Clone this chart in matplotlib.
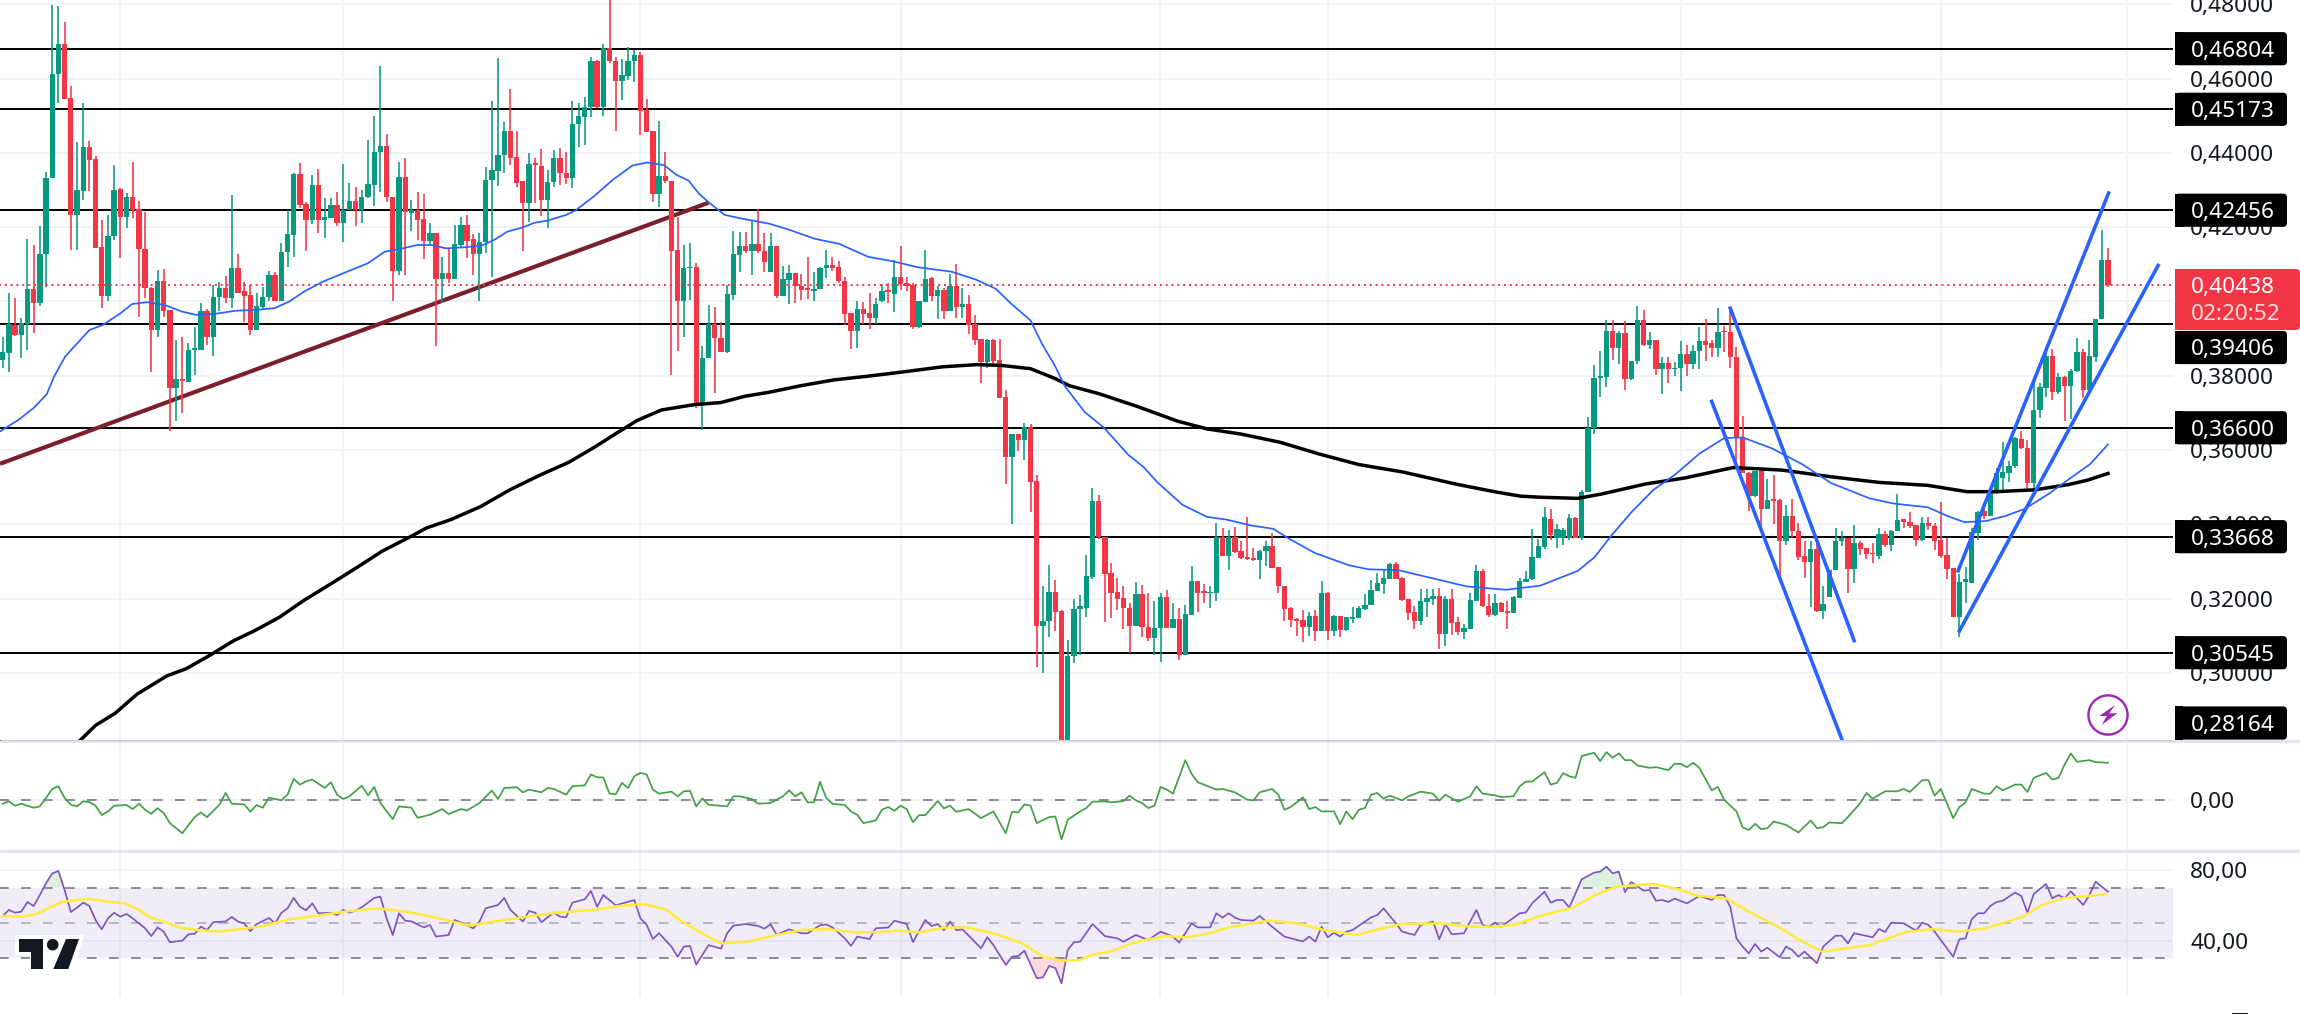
import numpy as np
import matplotlib
matplotlib.use("Agg")
import matplotlib.pyplot as plt
from matplotlib.patches import Rectangle, FancyBboxPatch, Polygon, Circle
from matplotlib.ticker import FuncFormatter

plt.rcParams['font.family'] = ['Noto Sans', 'DejaVu Sans']

# ---- candles: G = up, R = down
direction = ("GGRGGRGGGG" "RRGGRRRGGR" "GRRRRGRRGR" "GGGRGGRGRR" "RGGGRGGGRR" "GRGGRGGRGG" "GGRRGRGRRG"
             "RGRGGRRGGG" "GGRRRGRRGG" "RRGGGGRGRR" "GGGRRRGRRR" "GGRGGRRGGG" "RGRRGRGGRR" "RGGGRRRRGR"
             "RGGRGRRRGG" "RGRGRGRRRG" "RRRGRGRRGG" "RRGGGGGRRR" "RRRGRRGGRG" "RGGRRGGRGR" "RRRGGRRRRR"
             "RGRGRGRGGG" "GGGGGRRRRG" "GGRGRRGGGR" "RGRRGGGGGG" "RGGGRGGGGG" "RGRGGRGRGR" "GGRGGRRGRR"
             "RRRGRGRRGR" "RRGRGGGGRG" "RRRGRGGRRR" "GRRRRRGGGG" "RGGGGGRRGG" "GRGRGGRGGG" "R")
body_top = [
 .3863,.3940,.3937,.3943,.4033,.4033,.4127,.4332,.4612,.4693,
 .4693,.4547,.4300,.4417,.4417,.4384,.4146,.4176,.4300,.4303,
 .4281,.4282,.4248,.4140,.4036,.4055,.4055,.3977,.3792,.3792,
 .3870,.3874,.3973,.3975,.4011,.4035,.4035,.4089,.4089,.4028,
 .4018,.3988,.4013,.4070,.4070,.4134,.4181,.4343,.4343,.4263,
 .4314,.4314,.4227,.4260,.4260,.4246,.4271,.4271,.4280,.4315,
 .4402,.4419,.4419,.4282,.4334,.4334,.4245,.4245,.4222,.4184,
 .4184,.4076,.4076,.4154,.4206,.4206,.4167,.4161,.4326,.4354,
 .4394,.4459,.4459,.4388,.4323,.4369,.4372,.4366,.4321,.4385,
 .4385,.4347,.4478,.4498,.4523,.4648,.4648,.4681,.4681,.4647,
 .4609,.4647,.4663,.4663,.4516,.4459,.4338,.4338,.4324,.4139,
 .4089,.4094,.4094,.3847,.3940,.3940,.3903,.4020,.4127,.4150,
 .4150,.4154,.4154,.4137,
 .4148,.4148,.4060,.4077,.4077,.4041,
 .4037,.4034,.4090,.4097,.4097,.4092,.4056,.3969,.3981,.3981,
 .3969,.3994,.4027,.4030,.4065,.4065,.4049,.4043,.4002,.4060,
 .4062,.4032,.4030,.4041,.4041,.3993,.3993,.3939,.3898,.3896,
 .3896,.3842,.3742,.3643,.3643,.3663,.3663,.3517,.3140,.3219,
 .3219,.3168,.3045,.3172,.3179,.3261,.3462,.3462,.3365,.3269,
 .3218,.3202,.3176,.3212,.3212,.3125,.3122,.3204,.3204,.3145,
 .3145,.3159,.3248,.3248,.3220,.3218,.3365,.3366,.3366,.3366,
 .3327,.3313,.3309,.3329,.3341,.3341,.3285,.3233,.3174,.3144,
 .3142,.3153,.3153,.3214,.3216,.3153,.3153,.3150,.3150,.3175,
 .3184,.3222,.3242,.3255,.3292,.3292,.3255,.3198,.3163,.3193,
 .3201,.3207,.3207,.3200,.3200,.3137,.3121,.3196,.3275,.3275,
 .3181,.3187,.3189,.3168,.3205,.3247,.3253,.3312,.3341,
 .3419,
 .3414,.3388,.3386,.3417,.3417,.3488,.3660,.3794,.3799,.3921,
 .3921,.3914,.3914,.3840,.3949,.3949,.3896,.3896,.3834,.3834,
 .3822,.3859,.3859,.3866,.3893,.3893,.3887,.3919,.3921,.3917,
 .3850,.3636,.3539,.3544,.3544,.3465,.3467,.3465,.3423,.3423,
 .3381,.3314,.3333,.3333,.3185,.3278,.3355,.3363,.3363,.3349,
 .3349,.3337,.3323,.3375,.3375,.3383,.3412,.3414,.3406,.3397,
 .3403,.3403,.3395,.3358,.3317,.3282,.3245,.3252,.3379,.3434,
 .3435,.3488,.3539,.3542,.3558,.3632,.3630,.3606,.3709,.3771,
 .3854,.3854,.3796,.3797,.3814,.3863,.3865,.3852,.3954,.4112,
 .4112]
body_bottom = [
 .3843,.3862,.3910,.3910,.3940,.3997,.3997,.4127,.4332,.4612,
 .4546,.4233,.4233,.4298,.4381,.4143,.4015,.4015,.4175,.4228,
 .4228,.4246,.4140,.4036,.3923,.3923,.3975,.3768,.3768,.3786,
 .3784,.3870,.3870,.3904,.3904,.4011,.4009,.4009,.4024,.4015,
 .3923,.3923,.3986,.4013,.4001,.4001,.4132,.4179,.4260,.4219,
 .4219,.4219,.4219,.4224,.4212,.4212,.4245,.4245,.4245,.4280,
 .4314,.4401,.4282,.4083,.4083,.4242,.4237,.4219,.4164,.4164,
 .4060,.4060,.4060,.4060,.4152,.4164,.4128,.4128,.4161,.4326,
 .4352,.4394,.4387,.4320,.4266,.4266,.4367,.4273,.4273,.4321,
 .4345,.4333,.4333,.4477,.4496,.4523,.4524,.4524,.4646,.4594,
 .4594,.4607,.4646,.4514,.4457,.4289,.4289,.4323,.4137,.4002,
 .4002,.4089,.3726,.3722,.3847,.3901,.3865,.3865,.4018,.4125,
 .4137,.4137,.4137,.4105,
 .4078,.4015,.4015,.4058,.4041,.4032,
 .4032,.4027,.4034,.4090,.4091,.4054,.3967,.3921,.3921,.3967,
 .3955,.3955,.4002,.4025,.4021,.4046,.4041,.3932,.3932,.3999,
 .4014,.4014,.3975,.3975,.3984,.3984,.3938,.3895,.3836,.3836,
 .3840,.3740,.3580,.3580,.3627,.3627,.3515,.3126,.3126,.3140,
 .3165,.2750,.2750,.3045,.3172,.3175,.3258,.3365,.3267,.3216,
 .3200,.3175,.3126,.3126,.3124,.3094,.3094,.3122,.3122,.3122,
 .3048,.3048,.3156,.3216,.3216,.3214,.3214,.3315,.3315,.3326,
 .3309,.3306,.3305,.3304,.3327,.3283,.3233,.3172,.3142,.3140,
 .3124,.3124,.3114,.3114,.3114,.3114,.3116,.3116,.3146,.3147,
 .3173,.3184,.3220,.3240,.3253,.3253,.3196,.3161,.3140,.3140,
 .3191,.3200,.3105,.3105,.3135,.3111,.3111,.3118,.3195,.3179,
 .3156,.3156,.3165,.3161,.3161,.3202,.3246,.3252,.3309,
 .3340,
 .3372,.3363,.3363,.3363,.3363,.3363,.3488,.3660,.3794,.3797,
 .3875,.3875,.3791,.3791,.3840,.3882,.3884,.3817,.3819,.3819,
 .3819,.3821,.3831,.3831,.3866,.3884,.3875,.3876,.3917,.3850,
 .3636,.3539,.3476,.3476,.3442,.3442,.3463,.3354,.3354,.3381,
 .3312,.3300,.3300,.3166,.3166,.3205,.3277,.3354,.3279,.3279,
 .3335,.3321,.3319,.3315,.3344,.3344,.3381,.3406,.3395,.3358,
 .3358,.3395,.3356,.3315,.3279,.3150,.3150,.3244,.3242,.3377,
 .3423,.3423,.3488,.3525,.3539,.3556,.3606,.3511,.3511,.3708,
 .3768,.3755,.3755,.3773,.3773,.3812,.3763,.3763,.3850,.3954,
 .40438]
wick_high = [
 .3905,.4022,.4009,.3955,.4167,.4152,.4202,.4348,.4798,.4795,
 .4752,.4580,.4430,.4533,.4433,.4392,.4219,.4233,.4367,.4305,
 .4293,.4375,.4270,.4242,.4040,.4085,.4087,.3977,.3897,.3904,
 .3888,.3932,.3995,.3979,.4045,.4053,.4069,.4287,.4128,.4053,
 .4045,.4022,.4040,.4083,.4080,.4157,.4246,.4345,.4372,.4269,
 .4341,.4357,.4278,.4278,.4296,.4370,.4320,.4309,.4300,.4435,
 .4498,.4634,.4450,.4282,.4375,.4385,.4273,.4294,.4289,.4211,
 .4184,.4121,.4143,.4206,.4227,.4233,.4182,.4184,.4363,.4540,
 .4655,.4484,.4571,.4459,.4323,.4399,.4385,.4411,.4354,.4408,
 .4412,.4403,.4540,.4533,.4551,.4659,.4650,.4693,.4811,.4659,
 .4654,.4684,.4677,.4672,.4545,.4459,.4486,.4403,.4324,.4228,
 .4152,.4157,.4103,.3881,.3991,.3986,.3946,.4045,.4190,.4188,
 .4186,.4218,.4248,.4184,
 .4185,.4148,.4095,.4097,.4077,.4074,
 .4120,.4078,.4092,.4139,.4120,.4108,.4065,.3969,.4001,.3999,
 .4023,.4009,.4046,.4051,.4111,.4148,.4065,.4051,.4002,.4139,
 .4065,.4041,.4037,.4074,.4102,.4037,.4018,.3963,.3898,.3898,
 .3900,.3900,.3763,.3643,.3643,.3672,.3671,.3532,.3235,.3290,
 .3249,.3170,.3090,.3198,.3209,.3318,.3498,.3479,.3365,.3295,
 .3255,.3233,.3189,.3246,.3237,.3216,.3193,.3216,.3224,.3189,
 .3175,.3184,.3288,.3248,.3239,.3235,.3404,.3391,.3385,.3392,
 .3355,.3420,.3337,.3332,.3355,.3378,.3285,.3235,.3177,.3147,
 .3170,.3165,.3170,.3248,.3218,.3156,.3153,.3151,.3177,.3181,
 .3212,.3249,.3270,.3276,.3295,.3298,.3258,.3198,.3179,.3227,
 .3226,.3227,.3230,.3207,.3226,.3151,.3133,.3214,.3290,.3281,
 .3212,.3212,.3190,.3193,.3207,.3256,.3274,.3388,.3360,
 .3448,
 .3442,.3400,.3391,.3428,.3419,.3493,.3689,.3828,.3868,.3949,
 .3949,.3921,.3947,.3840,.3987,.3977,.3919,.3896,.3850,.3850,
 .3836,.3893,.3884,.3884,.3930,.3953,.3896,.3982,.3933,.3973,
 .3877,.3692,.3541,.3544,.3553,.3522,.3532,.3467,.3451,.3467,
 .3405,.3354,.3354,.3354,.3233,.3279,.3391,.3381,.3363,.3398,
 .3354,.3337,.3349,.3391,.3381,.3386,.3482,.3414,.3432,.3397,
 .3419,.3419,.3405,.3460,.3363,.3282,.3266,.3284,.3391,.3437,
 .3460,.3488,.3553,.3622,.3570,.3634,.3652,.3627,.3780,.3780,
 .3873,.3873,.3808,.3800,.3817,.3901,.3873,.3896,.3954,.4193,
 .4143]
wick_low = [
 .3820,.3809,.3906,.3847,.3870,.3914,.3988,.4040,.4332,.4533,
 .4546,.4139,.4139,.4273,.4298,.4143,.3982,.4000,.4166,.4116,
 .4199,.4224,.3959,.4009,.3809,.3904,.3959,.3650,.3679,.3701,
 .3784,.3802,.3870,.3883,.3852,.3973,.3997,.3982,.4022,.3946,
 .3910,.3923,.3977,.4000,.4001,.4001,.4094,.4121,.4251,.4137,
 .4209,.4184,.4172,.4224,.4203,.4161,.4245,.4203,.4212,.4278,
 .4258,.4296,.4269,.4001,.4071,.4071,.4191,.4166,.4114,.4152,
 .3881,.3995,.4049,.4060,.4143,.4116,.4071,.4000,.4130,.4067,
 .4311,.4345,.4367,.4309,.4137,.4215,.4264,.4230,.4199,.4309,
 .4314,.4316,.4305,.4417,.4421,.4496,.4520,.4498,.4641,.4460,
 .4541,.4596,.4592,.4448,.4457,.4269,.4254,.4318,.3801,.3868,
 .3904,.4004,.3713,.3653,.3847,.3753,.3865,.3862,.4004,.4080,
 .4130,.4071,.4130,.4080,
 .4078,.4009,.4015,.3992,.3995,.4004,
 .4007,.4002,.4034,.4062,.4083,.4051,.3938,.3873,.3874,.3939,
 .3925,.3939,.3999,.3995,.3972,.4030,.4027,.3925,.3928,.3999,
 .4002,.3953,.3953,.3975,.3956,.3956,.3912,.3882,.3780,.3822,
 .3826,.3740,.3508,.3402,.3598,.3573,.3434,.3017,.3001,.3096,
 .3114,.2700,.2700,.3026,.3049,.3150,.3253,.3360,.3137,.3147,
 .3170,.3119,.3054,.3126,.3096,.3087,.3049,.3029,.3122,.3122,
 .3036,.3048,.3156,.3163,.3189,.3176,.3193,.3314,.3277,.3323,
 .3307,.3304,.3302,.3253,.3289,.3283,.3216,.3140,.3124,.3100,
 .3084,.3100,.3086,.3114,.3088,.3100,.3098,.3114,.3135,.3147,
 .3170,.3184,.3220,.3212,.3253,.3253,.3193,.3142,.3119,.3128,
 .3151,.3184,.3065,.3073,.3103,.3102,.3091,.3118,.3195,.3177,
 .3151,.3154,.3163,.3119,.3161,.3202,.3244,.3249,.3309,
 .3335,
 .3358,.3337,.3344,.3358,.3363,.3358,.3488,.3643,.3743,.3771,
 .3843,.3831,.3762,.3789,.3833,.3879,.3873,.3803,.3752,.3780,
 .3799,.3760,.3799,.3817,.3817,.3840,.3850,.3850,.3863,.3822,
 .3567,.3539,.3437,.3474,.3391,.3442,.3400,.3244,.3344,.3363,
 .3303,.3256,.3177,.3164,.3145,.3205,.3277,.3343,.3216,.3241,
 .3317,.3307,.3296,.3307,.3340,.3328,.3381,.3391,.3391,.3342,
 .3354,.3386,.3330,.3309,.3254,.3150,.3096,.3187,.3242,.3358,
 .3414,.3423,.3483,.3493,.3513,.3553,.3604,.3488,.3488,.3687,
 .3743,.3734,.3752,.3678,.3683,.3810,.3741,.3761,.3838,.3954,
 .4040]

# ---- moving averages (bar number, price)
ema50 = [(-.44,.3650),(2.7,.3683),(5.1,.3715),(7.1,.3750),(8.3,.3798),(10.1,.3852),(11.8,.3883),(14,.3923),(16.2,.3937),
 (19,.3968),(20.9,.3993),(23.3,.3998),(26.1,.3991),(28.9,.3973),(31.2,.3964),(34.4,.3967),(37.6,.3975),(40.7,.3977),
 (43.9,.3982),(46.3,.4000),(48.7,.4027),(51.8,.4054),(55,.4076),(59,.4103),(61.7,.4134),(64.1,.4141),(66.9,.4152),
 (69.2,.4152),(71.6,.4143),(74.8,.4146),(77.6,.4152),(79.5,.4167),(81.5,.4188),(83.9,.4199),(85.9,.4212),(87.8,.4217),
 (91,.4233),(92.6,.4246),(95.4,.4282),(98.5,.4327),(101.7,.4366),(104.1,.4374),(106.8,.4367),(108.8,.4341),(110.8,.4325),
 (112.4,.4291),(114,.4267),(116.6,.4233),(119.1,.4224),(123.9,.4209),
 (127.2,.4192),(131.1,.4169),(135.1,.4155),(139.8,.4120),(143.8,.4108),(147.8,.4092),(153.3,.4080),(157.3,.4058),
 (160.4,.4034),(162.8,.3995),(166,.3949),(167.9,.3884),(169.9,.3828),(171.5,.3773),(174.7,.3703),(177.8,.3661),
 (181.8,.3587),(184.2,.3555),(186.5,.3513),(190.5,.3453),(194.5,.3420),(197.6,.3413),(201.6,.3397),(205.2,.3388),
 (207.9,.3360),(211.9,.3323),(217.4,.3290),(220.6,.3279),(225.3,.3277),(230.9,.3255),(236.4,.3233),(242.8,.3224),(248.3,.3235),
 (254.4,.3275),(257.1,.3312),(259.9,.3372),(263,.3432),(266.6,.3493),(270.1,.3534),(274,.3590),(278,.3632),(281,.3634),
 (285.8,.3604),(290.6,.3562),(295.3,.3511),(301.5,.3470),(305.4,.3456),(310.9,.3446),(314,.3423),(316.8,.3406),
 (320.3,.3409),(323.5,.3423),(326.6,.3442),(330.5,.3483),(334.4,.3530),(337.1,.3562),(340,.3615)]
ema200 = [(12.6,.2820),(15,.2859),(18.2,.2892),(21.7,.2943),(26.5,.2992),(29.7,.3012),(33.6,.3049),(37.2,.3086),(40.7,.3114),
 (44.7,.3150),(48.7,.3196),(53.4,.3244),(57.4,.3286),(61.3,.3328),(66.1,.3369),(68.4,.3390),(72.4,.3413),(77.2,.3448),
 (81.9,.3493),(86.7,.3532),(91.4,.3567),(95.4,.3606),(98.9,.3643),(102.5,.3680),(106.4,.3708),(111.6,.3722),(116,.3728),
 (119.9,.3745),(123.9,.3756),(128.8,.3773),(134.3,.3789),(139.8,.3799),(146.2,.3812),(151.7,.3824),(157.3,.3830),
 (161.2,.3828),(166,.3819),(169.9,.3793),(172.3,.3773),(177,.3752),(183.3,.3717),(189.7,.3678),(194.5,.3657),(200,.3643),
 (206.3,.3621),(212.7,.3589),(219,.3561),(226.1,.3541),(234.8,.3508),(241.2,.3487),(245.1,.3476),(248.3,.3473),
 (254.4,.3470),(258.3,.3482),(265.4,.3509),(271.7,.3525),(279.5,.3553),(287.4,.3546),(295.3,.3528),(303,.3513),
 (310.9,.3505),(317.2,.3488),(321.9,.3488),(328.2,.3493),(333.6,.3507),(336.7,.3519),(340,.3537)]

# ---- drawings
levels = [.46804,.45173,.42456,.39406,.36600,.33668,.30545,.28164]
level_names = ["0,46804","0,45173","0,42456","0,39406","0,36600","0,33668","0,30545","0,28164"]
last_price = .40438
price_ticks = [.30,.32,.34,.36,.38,.40,.42,.44,.46,.48]
time_grid = [18.9,55,102.9,145.1,186.9,214,241,271,313,343]
support_line = [(-.44,.3563),(114,.4266)]
channel_lines = [[(279,.3982),(299,.3087)],[(276,.3731),(297.4,.2805)],
                 [(315.8,.3275),(340.1,.4292)],[(316,.3113),(348.1,.4097)]]

# ---- lower panes (bar number, value)
osc = [(0,-.012),(1,-.005),(2,-.018),(3,-.012),(5,-.024),(6,-.020),(7,.005),(8,.032),(9,.040),(10,.005),(11,-.015),(12,-.020),
 (13,-.005),(14,-.007),(15,-.018),(16,-.046),(17,-.035),(18,-.018),(20,-.016),(21,-.028),(22,-.012),(23,-.030),(24,-.042),
 (25,-.025),(26,-.040),(27,-.070),(29,-.100),(31,-.052),(32,-.038),(33,-.052),(35,-.015),(36,.020),(37,-.012),(39,-.014),
 (40,-.036),(41,-.016),(42,-.024),(43,.006),(45,-.002),(46,.015),(47,.062),(48,.045),(49,.055),(50,.060),(52,.035),(53,.052),
 (54,.015),(55,.002),(56,.010),(58,.042),(59,.013),(60,.038),(61,-.010),(63,-.058),(64,-.020),(66,-.024),(67,-.054),(69,-.045),
 (71,-.028),(72,-.043),(74,-.028),(75,-.032),(77,-.010),(79,.027),(80,.002),(81,.035),(83,.037),(84,.022),(85,.030),(87,.022),
 (88,.035),(89,.032),(91,.015),(92,.040),(94,.043),(95,.075),(96,.067),(97,.066),(98,.018),(99,.016),(100,.050),(101,.035),
 (102,.070),(103,.080),(104,.075),(105,.030),(106,.018),(108,.024),(109,.010),(110,.025),(111,.026),(112,-.020),(113,.004),
 (114,-.015),(117,-.020),(118,.010),(119,.010),(121,.002),(122,-.012),(124,-.010),(126,.010),(127,.028),(128,.010),(129,.022),
 (130,-.008),(131,-.008),(132,.053),(133,.005),(134,-.012),(136,-.016),(137,-.035),(138,-.045),(139,-.070),(141,-.062),
 (142,-.030),(143,-.022),(144,-.033),(145,-.018),(146,-.028),(147,-.067),(148,-.046),(149,-.046),(151,-.004),(152,-.026),
 (153,-.018),(154,-.036),(156,-.028),(158,-.055),(160,-.035),(162,-.100),(163,-.036),(164,-.038),(165,-.014),(166,-.018),
 (167,-.070),(169,-.052),(170,-.050),(171,-.118),(172,-.060),(174,-.035),(175,-.025),(176,-.006),(178,-.005),(179,-.008),
 (181,-.004),(182,.012),(183,-.002),(184,-.010),(185,-.025),
 (186,-.018),(187,.038),(188,.030),(189,.018),(191,.118),(192,.077),(193,.052),(194,.045),(196,.030),(197,.032),(199,.022),
 (201,0),(202,-.002),(203,.022),(205,.032),(206,.015),(207,-.030),(208,-.022),(210,.007),(211,-.028),(212,-.022),(213,-.035),
 (215,-.035),(216,-.073),(217,-.035),(218,-.058),(219,-.030),(220,-.025),(221,.015),(222,.020),(223,.003),(224,.012),(226,-.002),
 (227,.010),(229,.024),(231,.018),(232,-.003),(233,.015),(235,-.006),(237,.010),(238,.040),(239,.018),(241,.013),(242,.008),
 (244,.010),(245,.040),(246,.054),(247,.054),(249,.082),(250,.045),(251,.050),(252,.079),(253,.070),(254,.065),(255,.130),
 (257,.140),(258,.115),(259,.142),(260,.125),(261,.138),(262,.118),(263,.118),(264,.102),(266,.095),(267,.097),(269,.088),
 (270,.107),(271,.107),(272,.097),(273,.110),(274,.095),(276,.028),(277,.038),(278,0),(280,-.035),(281,-.083),(282,-.090),
 (283,-.072),(284,-.088),(285,-.085),(286,-.065),(288,-.075),(290,-.098),(292,-.062),(293,-.085),(294,-.082),(295,-.068),
 (297,-.070),(298,-.052),(300,-.010),(301,.020),(302,.003),(304,.025),(306,.025),(307,.032),(308,.023),(310,.058),(311,.058),
 (312,.012),(313,.032),(315,-.055),(316,-.022),(317,-.008),(318,.032),(320,.018),(321,.018),(322,.040),(323,.028),(325,.045),
 (326,.045),(327,.023),(328,.065),(330,.080),(331,.060),(332,.065),(333,.105),(334,.138),(335,.113),(337,.118),(338,.112),(340,.110)]
rsi = [(0,54),(1,57.4),(2,55.8),(3,56.4),(4,61.9),(5,59.6),(6,65.8),(7,72.5),(8,78.1),(9,79.4),(10,68.7),(11,56.2),(12,58.7),
 (13,61.5),(14,59.6),(15,51.7),(16,46.4),(17,52.6),(18,55.8),(19,53.6),(20,55.1),(21,52.6),(23,47),(24,42.6),(25,47.5),(26,45.1),
 (27,39.1),(29,40),(30,43.6),(31,43.8),(32,47.9),(33,46),(34,50.4),(36,50.9),(37,53.4),(38,50.8),(39,49.8),(40,45.3),(41,49.4),
 (43,52.8),(44,49.8),(45,55.7),(46,58.3),(47,64.2),(48,59.2),(49,57.2),(50,61.1),(51,55.5),(53,55.8),(54,54.5),(55,57.4),(56,55.8),
 (57,57),(58,58.9),(60,64.2),(61,64.9),(62,52.6),(63,43.2),(64,55.5),(65,51.3),(66,50.9),(68,47.5),(69,48.9),(70,42.3),(72,43.2),
 (73,51.7),(74,50.2),(76,47),(77,50.8),(78,58.3),(80,60.2),(81,64.2),(82,57.4),(84,50.8),(85,56.8),(86,55.8),(87,50.4),(89,56),
 (90,53.6),(91,53.2),(92,61.5),(94,63.4),(95,68.1),(96,59.2),(97,65.8),(99,60),(102,63),(103,52.6),(104,48.9),(105,40.9),(106,44.2),
 (108,36.6),(109,30.9),(110,36.6),(111,37),(112,26.4),(114,37.5),(116,35.5),(117,44.2),(118,48.5),(120,49.4),(122,48.3),(123,46.8),
 (124,49.2),(125,43.4),(127,46.4),(129,44.2),(130,44.2),(132,48.7),(133,49.2),(134,47.5),(136,41.3),(137,37),(138,42.3),(140,40.9),
 (141,47),(143,47.4),(144,51.3),(146,49.4),(147,39.2),(149,51.7),(150,48.3),(151,49.4),(152,46),(153,50.8),(154,46),(155,46.4),
 (158,35.7),(159,41.9),(160,37.5),(162,26.2),(163,30.9),(164,31.3),(165,34.3),(167,18.7),(168,19.2),(169,25.7),(170,24.5),(171,15.8),
 (172,34.7),(173,39.1),(174,39.4),(176,49.4),(178,42.6),(180,41.3),(181,39.4),(183,43.2),(185,40.4),
 (187,45.1),(189,42.3),(190,38.9),(192,49.8),(193,47.5),(195,47.5),(196,55.5),(197,53),(198,55.5),(199,53),(200,51.7),(202,51.3),
 (203,54),(205,47.9),(207,42.3),(209,40.4),(210,39.6),(211,42.3),(212,39.4),(213,47.9),(214,41.9),(215,44.5),(216,42.3),(217,45.1),
 (218,46),(220,50.8),(221,53.2),(222,54.5),(223,58.3),(225,49.8),(226,45.1),(228,43.2),(229,48.9),(231,50.8),(232,40.8),(233,49.4),
 (234,43.6),(236,44.2),(238,57.4),(239,48.9),(240,47.9),(241,50.2),(242,47.9),(245,55.5),(246,56),(247,61.1),(249,67.7),(250,61.5),
 (251,63),(252,63),(253,58.7),(255,74.7),(257,78.5),(258,79.1),(259,81.9),(260,78.1),(261,79.1),(262,67.5),(263,73.2),(265,68.3),
 (266,68.7),(267,62.6),(268,63),(269,61.9),(270,63.8),(272,61.1),(274,65.3),(276,63),(277,65.8),(278,65.8),(279,59.2),(280,41.3),
 (281,36.6),(282,32.8),(283,38.1),(284,33.8),(285,36),(287,30.6),(288,36.6),(289,34.7),(290,30.9),(291,33.8),(293,27.2),(294,36.6),
 (296,42.8),(297,42.8),(298,38.5),(299,44.2),(302,41.9),(303,46.6),(304,44.9),(305,50.2),(307,49.8),(309,45.7),(310,50.2),(311,48.9),
 (312,45.1),(313,40.4),(315,30.9),(316,40.8),(317,41.3),(318,52.1),(319,55.5),(320,55.5),(321,59.6),(322,61.9),(323,62.6),(325,67.2),
 (326,65.3),(327,55.8),(328,66.4),(330,72.1),(331,64),(332,65.8),(333,64),(334,67.9),(336,60.2),(337,65.8),(338,73.4),(340,67.7)]
rsi_ma = [(0,54),(3,53.6),(5.5,55.1),(7.8,59.2),(9.6,62),(13.8,63.7),(16.7,62.2),(19.7,61.1),(22,57.4),(23.8,53.2),(25.6,51.3),
 (28.5,47.5),(31.5,46),(35,45.1),(38.6,46.6),(42.1,48.3),(46.3,52.1),(50.4,54),(55.2,56.4),(60.5,58.3),(65.8,56),(70.5,52.6),
 (75.3,48.5),(80,51.1),(84.7,53.6),(89.4,55.8),(95.4,57.4),(99.5,59.6),(103.6,60.8),(107.2,57.4),(109.5,51.3),(113.1,43.8),(116,38.5),
 (120.2,39.4),(124.9,43.2),(129.1,46),(133.2,46.6),(137.3,44.7),(141.5,44.7),(144.4,45.7),(148,44.7),(152.1,47.4),(155.7,47.5),
 (160.4,43.8),(164.6,38.5),(168.1,30.9),(171,28.7),(174,29),(175.8,31.9),(179.3,34.2),(182.3,38.5),(185,40.8),
 (188,42.6),(190.9,41.9),(194.5,43.8),(198,47.5),(204.5,51.3),(209.2,49.8),(213.4,46),(218.7,43.2),(221.7,46),(225.8,49.4),(232.3,49.8),
 (237,47.9),(240.6,47.9),(244.1,48.9),(248.3,54),(253.6,58.7),(257.1,65.8),(260.7,70.6),(266.6,72.1),(270.2,69.6),(273.7,65.5),
 (278.4,63.8),(282,56.4),(286.7,47.9),(289.7,41.3),(293.8,33.8),(301.5,37.5),(307.4,44.9),(311.6,46.6),(315.7,45.1),(320.4,47),
 (326.3,53.6),(329.3,60.2),(332.8,64),(339.6,66.3)]

UP, DOWN = "#089981", "#f23645"
INK, GRID, SEP = "#131722", "#f0f3fa", "#e0e3eb"
W, H = 2300, 1014
PANE_R = 2173
FS = 16.3
DASH = (0, (5.8, 7.4))

fig = plt.figure(figsize=(W/100, H/100), dpi=100, facecolor="white")

def pane(top, bottom, ylim):
    a = fig.add_axes([0, 1-bottom/H, PANE_R/W, (bottom-top)/H])
    a.set_xlim(-0.436, 350.5)
    a.set_ylim(*ylim)
    for s in a.spines.values():
        s.set_visible(False)
    a.set_xticks(time_grid)
    a.tick_params(axis='x', length=0, labelbottom=False)
    a.yaxis.tick_right()
    a.tick_params(axis='y', length=0, pad=12.5, labelsize=FS, labelcolor=INK)
    a.grid(True, color=GRID, lw=1.4)
    a.set_axisbelow(True)
    return a

ax = pane(0, 740.5, (.28182, .48115))
ax2 = pane(741, 851, (-.153, .175))
ax3 = pane(851, 997, (8.1, 90.75))

# --- price pane
ax.set_yticks(price_ticks)
ax.yaxis.set_major_formatter(FuncFormatter(lambda v, _: f"{v:.5f}".replace(".", ",")))
ax.hlines(levels, -1, 351, color="black", lw=1.4, zorder=2)
ax.plot(*zip(*support_line), color="#7a1f2b", lw=3, solid_capstyle="butt", zorder=2)

x = np.arange(len(direction))
colors = [UP if d == "G" else DOWN for d in direction]
top, bot = np.array(body_top), np.array(body_bottom)
ax.vlines(x, wick_low, wick_high, colors=colors, lw=1.15, zorder=3)
ax.bar(x, top-bot, bottom=bot, width=.86, color=colors, linewidth=0, zorder=4)

ax.hlines(last_price, -1, 351, color=DOWN, lw=1.4, linestyle=(0, (1.0, 2.0)), zorder=5)
ax.plot(*zip(*ema200), color="black", lw=2.5, zorder=5)
ax.plot(*zip(*ema50), color="#2962ff", lw=1.25, zorder=6)
for ln in channel_lines:
    ax.plot(*zip(*ln), color="#2962ff", lw=2.6, zorder=6)

# --- oscillator pane
ax2.set_yticks([0])
ax2.yaxis.set_major_formatter(FuncFormatter(lambda v, _: "0,00"))
ax2.hlines(0, -1, 351, color="#787b86", lw=1.2, linestyle=DASH, zorder=2)
ax2.plot(*zip(*osc), color="#43a047", lw=1.25, zorder=3)

# --- RSI pane
ax3.set_yticks([40, 80])
ax3.yaxis.set_major_formatter(FuncFormatter(lambda v, _: f"{v:.2f}".replace(".", ",")))
ax3.axhspan(30, 70, color="#7e57c2", alpha=.1, lw=0, zorder=1)
ax3.hlines([30, 70], -1, 351, color="#787b86", lw=1.2, linestyle=DASH, zorder=2)
ax3.hlines(50, -1, 351, color="#787b86", alpha=.55, lw=1.2, linestyle=DASH, zorder=2)
rx, ry = (np.array(v, float) for v in zip(*rsi))
ax3.fill_between(rx, ry, 70, where=ry > 70, interpolate=True, color="#4caf50", alpha=.18, lw=0, zorder=2)
ax3.fill_between(rx, ry, 30, where=ry < 30, interpolate=True, color="#f23645", alpha=.18, lw=0, zorder=2)
ax3.plot(rx, ry, color="#7e57c2", lw=1.25, zorder=3)
ax3.plot(*zip(*rsi_ma), color="#ffeb3b", lw=1.8, zorder=4)

# --- overlay in image pixels
ov = fig.add_axes([0, 0, 1, 1], zorder=10)
ov.set_xlim(0, W)
ov.set_ylim(H, 0)
ov.axis("off")

ov.hlines([741, 851], 0, W, color=SEP, lw=2.0)

fig.canvas.draw()
def level_y(p):
    return H - ax.transData.transform((0, p))[1]
moved = {"0,39406": 347.5, "0,28164": 723}

def box(x0, x1, y0, y1, color, z=11):
    ov.add_patch(FancyBboxPatch((x0+4, y0+4), x1-x0-8, y1-y0-8, boxstyle="round,pad=4,rounding_size=4",
                                fc=color, ec="none", zorder=z))
    ov.add_patch(Rectangle((x0, y0), 8, y1-y0, fc=color, ec="none", zorder=z))

for p, name in zip(levels, level_names):
    yc = moved.get(name, level_y(p))
    box(2175, 2287, yc-16.6, yc+16.6, "black")
    ov.text(2191, yc, name, color="white", fontsize=FS, ha="left", va="center_baseline", zorder=12)

# last price tag
box(2175, 2300, 269, 330, DOWN, z=11)
ov.text(2191, 284.5, "0,40438", color="white", fontsize=FS, ha="left", va="center_baseline", zorder=12)
ov.text(2191, 312.5, "02:20:52", color="#fcd9dc", fontsize=FS, ha="left", va="center_baseline", zorder=12)

# lightning badge
ov.add_patch(Circle((2108, 715), 19.6, fc="white", ec="#9c27b0", lw=1.7, zorder=11))
ov.add_patch(Polygon([(2115, 705), (2099.3, 716), (2106.7, 716), (2101.7, 725), (2117.3, 713.3), (2109.3, 713.3)],
                     fc="#9c27b0", ec="none", zorder=12))

# logo
ov.add_patch(Polygon([(15, 935), (84, 935), (73, 972), (30, 972), (30, 955), (15, 955)], fc="white", ec="none", zorder=11))
ov.add_patch(Polygon([(19, 939), (43.3, 939), (43.3, 969), (31.3, 969), (31.3, 951.7), (19, 951.7)], fc=INK, ec="none", zorder=12))
ov.add_patch(Circle((52.7, 944.7), 5.8, fc=INK, ec="none", zorder=12))
ov.add_patch(Polygon([(66, 939), (79, 939), (68.3, 969), (53.3, 969)], fc=INK, ec="none", zorder=12))

ov.add_patch(Rectangle((2232, 1013), 16, 1, fc=INK, ec="none", zorder=12))

fig.savefig("out.png", dpi=100, facecolor="white")
